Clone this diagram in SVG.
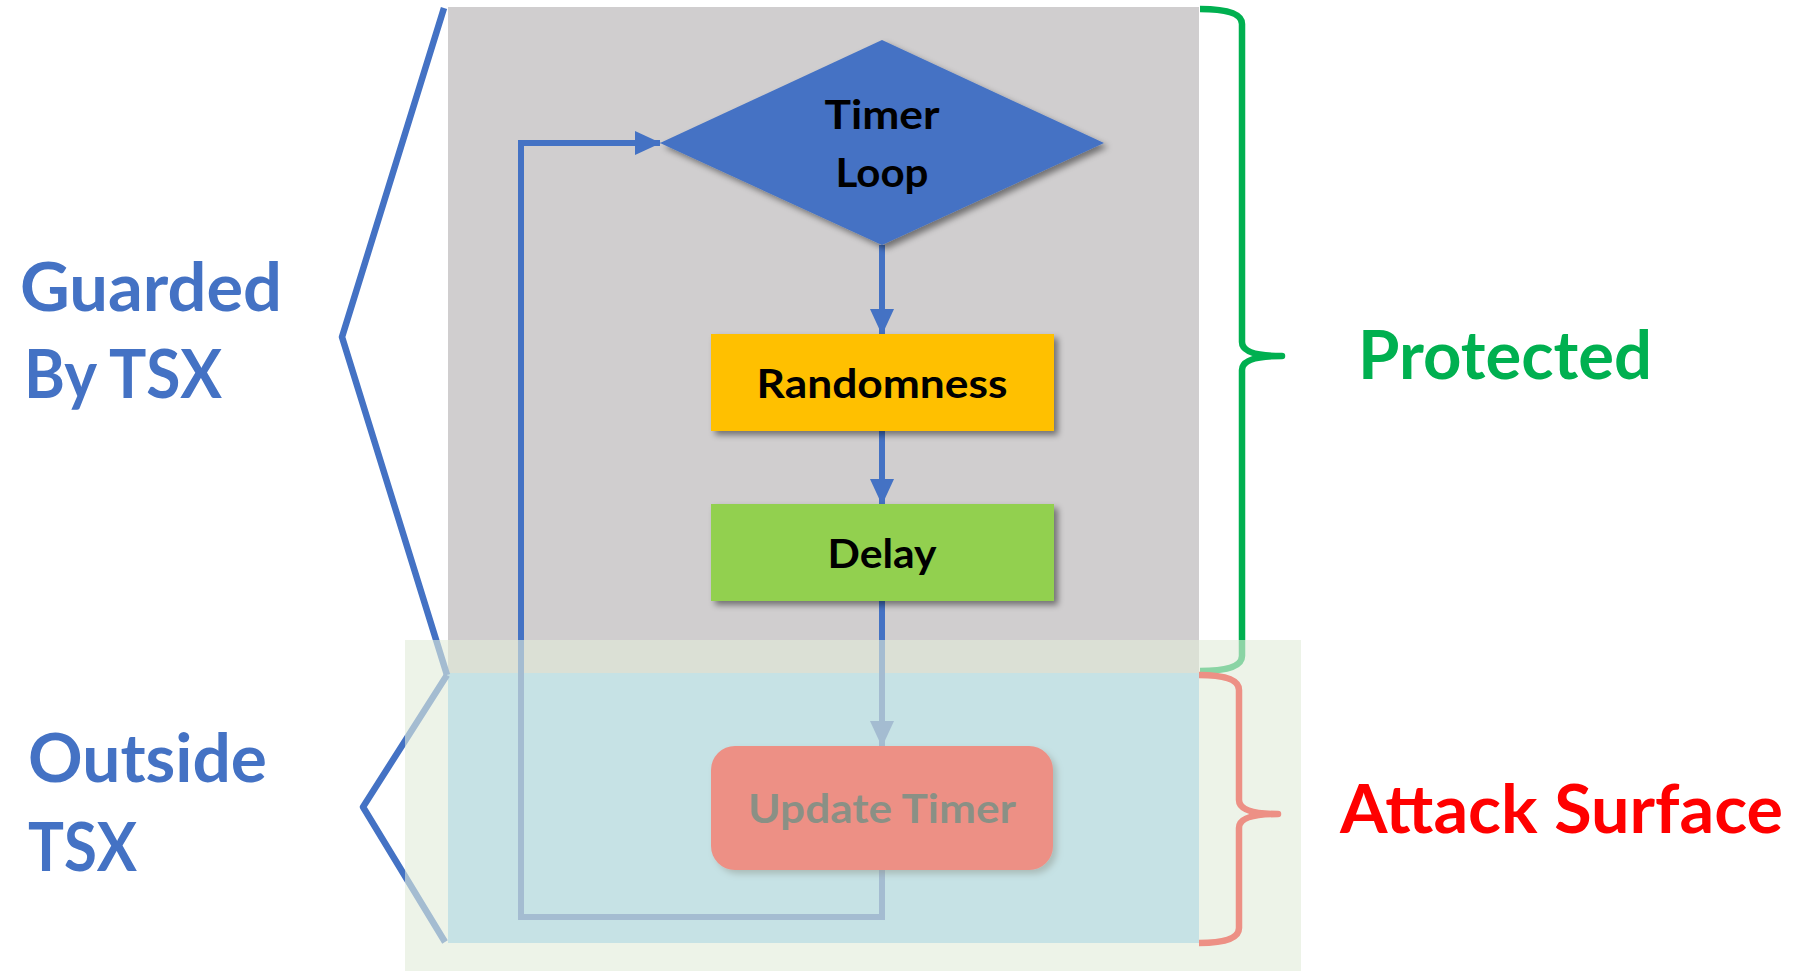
<svg xmlns="http://www.w3.org/2000/svg" width="1793" height="971" viewBox="0 0 1793 971">
<defs>
<style>
.lbl{font-family:Lato,"Liberation Sans",sans-serif;font-weight:700}
.big{font-size:67px}
.node{font-size:41px;fill:#000}
.conn{fill:none;stroke:#4472c4;stroke-width:6}
.brk{fill:none;stroke-width:6.5;stroke-linejoin:round;stroke-linecap:butt}
</style>
<filter id="sh" x="-10%" y="-10%" width="130%" height="130%">
<feDropShadow dx="4" dy="4" stdDeviation="3" flood-color="#000" flood-opacity="0.45"/>
</filter>
<marker id="ah" markerUnits="userSpaceOnUse" markerWidth="26" markerHeight="24" viewBox="0 0 26 24" refX="25" refY="12" orient="auto">
<path d="M0,0 L26,12 L0,24 Z" fill="#4472c4"/>
</marker>
</defs>
<rect width="1793" height="971" fill="#fff"/>
<g id="regions">
<rect x="448" y="7" width="751" height="666" fill="#d0cecf"/>
<rect x="448" y="673" width="751" height="270" fill="#9ad2f6"/>
</g>
<g id="brackets">
<polyline class="brk" stroke="#4472c4" points="444,8 342,337 447,675"/>
<polyline class="brk" stroke="#4472c4" points="447,675 363,807 445,942"/>
<path class="brk" stroke="#00b050" d="M1200,9 Q1242,9 1242,24 L1242,342 Q1242,356 1282,356 Q1242,356 1242,370 L1242,656 Q1242,671 1200,671"/>
<path class="brk" stroke="#ff0000" d="M1199,675 Q1239,675 1239,690 L1239,800 Q1239,814 1278,814 Q1239,814 1239,828 L1239,928 Q1239,943 1199,943"/>
</g>
<g id="connectors">
<line class="conn" x1="882" y1="245" x2="882" y2="334" marker-end="url(#ah)"/>
<line class="conn" x1="882" y1="431" x2="882" y2="504" marker-end="url(#ah)"/>
<line class="conn" x1="882" y1="601" x2="882" y2="746" marker-end="url(#ah)"/>
<polyline class="conn" points="882,870 882,917 521,917 521,143 660,143" marker-end="url(#ah)"/>
</g>
<g id="timer-loop">
<polygon points="882,40 1104,143 882,245 660,143" fill="#4472c4" filter="url(#sh)"/>
<text class="lbl node" x="882" y="129" text-anchor="middle" textLength="115" lengthAdjust="spacingAndGlyphs">Timer</text>
<text class="lbl node" x="882" y="187" text-anchor="middle" textLength="93" lengthAdjust="spacingAndGlyphs">Loop</text>
</g>
<g id="randomness">
<rect x="711" y="334" width="343" height="97" fill="#ffc000" filter="url(#sh)"/>
<text class="lbl node" x="882" y="398" text-anchor="middle" textLength="251" lengthAdjust="spacingAndGlyphs">Randomness</text>
</g>
<g id="delay">
<rect x="711" y="504" width="343" height="97" fill="#92d050" filter="url(#sh)"/>
<text class="lbl node" x="882" y="568" text-anchor="middle" textLength="109" lengthAdjust="spacingAndGlyphs">Delay</text>
</g>
<g id="update-timer">
<rect x="711" y="746" width="342" height="124" rx="24" ry="24" fill="#ff0000" filter="url(#sh)"/>
<text class="lbl node" x="882" y="823" text-anchor="middle" textLength="268" lengthAdjust="spacingAndGlyphs">Update Timer</text>
</g>
<g id="labels">
<text class="lbl big" x="20" y="311" fill="#4472c4" textLength="262" lengthAdjust="spacingAndGlyphs">Guarded</text>
<text class="lbl big" x="24" y="398" fill="#4472c4" textLength="198" lengthAdjust="spacingAndGlyphs">By TSX</text>
<text class="lbl big" x="28" y="782" fill="#4472c4" textLength="239" lengthAdjust="spacingAndGlyphs">Outside</text>
<text class="lbl big" x="28" y="871" fill="#4472c4" textLength="109" lengthAdjust="spacingAndGlyphs">TSX</text>
<text class="lbl big" x="1358" y="379" fill="#00b050" textLength="294" lengthAdjust="spacingAndGlyphs">Protected</text>
<text class="lbl big" x="1340" y="833" fill="#ff0000" textLength="443" lengthAdjust="spacingAndGlyphs">Attack Surface</text>
</g>
<g id="overlay">
<rect x="405" y="640" width="896" height="331" fill="#e1ebd9" fill-opacity="0.61"/>
</g>
</svg>
